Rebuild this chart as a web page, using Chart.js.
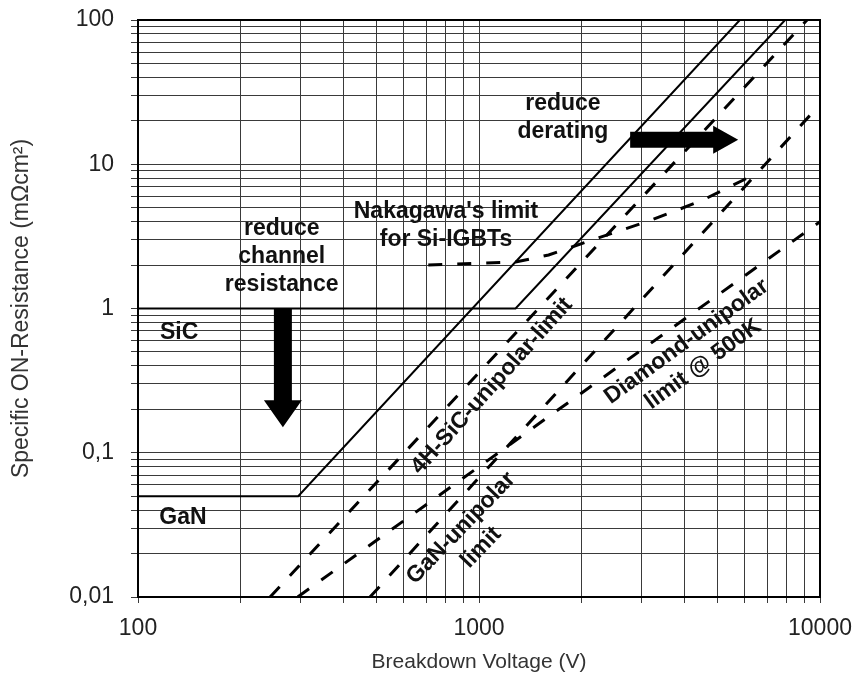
<!DOCTYPE html>
<html>
<head>
<meta charset="utf-8">
<script src="https://cdn.jsdelivr.net/npm/chart.js@4.4.1/dist/chart.umd.min.js"></script>
<style>
    html, body { margin: 0; padding: 0; background: #fff; }
</style>
</head>
<body>
<canvas id="chart" width="861" height="682"></canvas>
<script>
// breakdown voltage (V) / specific on-resistance (mOhm cm2)
const ganSolidV = [100, 295, 5820];
const ganSolidR = [0.05, 0.05, 100];
const sicSolidV = [100, 1280, 7900];
const sicSolidR = [1, 1, 100];
const sic4hLimitV = [244, 9160];
const sic4hLimitR = [0.01, 100];
const ganLimitV = [479, 10000];
const ganLimitR = [0.01, 26];
const diamondLimitV = [294, 10000];
const diamondLimitR = [0.01, 4.0];
const nakagawaV = [710, 1280, 1600, 2250, 3200, 4500, 6500];
const nakagawaR = [2.0, 2.1, 2.35, 3.1, 4.1, 5.6, 8.6];

const xTicks = [100, 1000, 10000];
const xTickLabels = ['100', '1000', '10000'];
const yTicks = [0.01, 0.1, 1, 10, 100];
const yTickLabels = ['0,01', '0,1', '1', '10', '100'];

// notes and arrows, anchored in data units
const noteText = [
    ['reduce', 'channel', 'resistance'],
    ['reduce', 'derating'],
    ['Nakagawa\'s limit', 'for Si-IGBTs'],
    ['SiC'],
    ['GaN'],
    ['4H-SiC-unipolar-limit'],
    ['GaN-unipolar', 'limit'],
    ['Diamond-unipolar', 'limit @ 500K'],
];
const noteAt = [[264, 2.3], [1762, 20.9], [800, 3.73], [132, 0.676], [135.5, 0.0353], [1091, 0.29], [948, 0.0257], [4295, 0.492]];
const noteAngle = [0, 0, 0, 0, 0, -48, -46, -36];
const arrowStart = [[266, 1], [2775, 14.8]];
const arrowEnd = [[266, 0.15], [5755, 14.8]];

const FONT = '"Liberation Sans", Arial, sans-serif';

function pts(xs, ys) {
    return xs.map((x, i) => ({ x, y: ys[i] }));
}

// 1..9 x 10^n grid between two decades
function logGrid(min, max) {
    const out = [];
    for(let e = Math.round(Math.log10(min)); e < Math.round(Math.log10(max)); e++) {
        for(let k = 1; k < 10; k++) {
            out.push(k * Math.pow(10, e));
        }
    }
    out.push(max);
    return out;
}

function decadeLabel(values, labels) {
    return (value) => {
        const i = values.findIndex(v => Math.abs(Math.log10(v / value)) < 1e-6);
        return i >= 0 ? labels[i] : '';
    };
}

function line(data, dashed) {
    return {
        data,
        borderColor: '#000',
        borderWidth: dashed ? 3 : 2,
        borderDash: dashed ? [14, 15] : [],
        pointRadius: 0,
        tension: 0,
        fill: false,
    };
}

function drawArrow(ctx, x1, y1, x2, y2, shaft, head, headLen) {
    const len = Math.hypot(x2 - x1, y2 - y1);
    ctx.save();
    ctx.translate(x1, y1);
    ctx.rotate(Math.atan2(y2 - y1, x2 - x1));
    ctx.beginPath();
    ctx.moveTo(0, -shaft);
    ctx.lineTo(len - headLen, -shaft);
    ctx.lineTo(len - headLen, -head);
    ctx.lineTo(len, 0);
    ctx.lineTo(len - headLen, head);
    ctx.lineTo(len - headLen, shaft);
    ctx.lineTo(0, shaft);
    ctx.closePath();
    ctx.fill();
    ctx.restore();
}

const notesPlugin = {
    id: 'notes',
    afterDatasetsDraw(chart) {
        const { ctx, chartArea: a, scales: { x, y } } = chart;
        ctx.save();
        ctx.strokeStyle = '#000';
        ctx.lineWidth = 2;
        ctx.strokeRect(a.left, a.top, a.right - a.left, a.bottom - a.top);

        const arrowSize = [[9, 19, 27], [8, 14, 25]];
        ctx.fillStyle = '#000';
        arrowStart.forEach((s, i) => {
            const e = arrowEnd[i];
            drawArrow(ctx,
                x.getPixelForValue(s[0]), y.getPixelForValue(s[1]),
                x.getPixelForValue(e[0]), y.getPixelForValue(e[1]),
                ...arrowSize[i]);
        });

        ctx.fillStyle = '#111';
        ctx.font = 'bold 23px ' + FONT;
        ctx.textAlign = 'center';
        ctx.textBaseline = 'middle';
        noteText.forEach((lines, i) => {
            ctx.save();
            ctx.translate(x.getPixelForValue(noteAt[i][0]), y.getPixelForValue(noteAt[i][1]));
            ctx.rotate(noteAngle[i] * Math.PI / 180);
            lines.forEach((t, j) => {
                ctx.fillText(t, 0, (j - (lines.length - 1) / 2) * 28);
            });
            ctx.restore();
        });
        ctx.restore();
    }
};

const gridStyle = { color: '#3a3a3a', lineWidth: 1, drawTicks: true };

new Chart(document.getElementById('chart'), {
    type: 'line',
    data: {
        datasets: [
            line(pts(ganSolidV, ganSolidR), false),
            line(pts(sicSolidV, sicSolidR), false),
            line(pts(sic4hLimitV, sic4hLimitR), true),
            line(pts(ganLimitV, ganLimitR), true),
            line(pts(diamondLimitV, diamondLimitR), true),
            line(pts(nakagawaV, nakagawaR), true),
        ]
    },
    options: {
        responsive: false,
        animation: false,
        layout: { padding: { top: 20, right: 41, left: 0, bottom: 0 } },
        plugins: {
            legend: { display: false },
            tooltip: { enabled: false },
        },
        scales: {
            x: {
                type: 'logarithmic',
                min: 100,
                max: 10000,
                afterBuildTicks: (s) => { s.ticks = logGrid(100, 10000).map(v => ({ value: v })); },
                afterFit: (s) => {
                    s.height = 85;
                    s.paddingLeft = 0;
                    s.paddingRight = 0;
                },
                grid: { ...gridStyle, tickLength: 6 },
                border: { display: false },
                ticks: {
                    autoSkip: false,
                    maxRotation: 0,
                    minRotation: 0,
                    padding: 12,
                    color: '#222',
                    font: { family: FONT, size: 23 },
                    callback: decadeLabel(xTicks, xTickLabels),
                },
                title: {
                    display: true,
                    text: 'Breakdown Voltage (V)',
                    color: '#333',
                    font: { family: FONT, size: 21 },
                    padding: { top: 0, bottom: 7 },
                },
            },
            y: {
                type: 'logarithmic',
                min: 0.01,
                max: 100,
                afterBuildTicks: (s) => { s.ticks = logGrid(0.01, 100).map(v => ({ value: v })); },
                afterFit: (s) => {
                    s.width = 138;
                    s.paddingTop = 0;
                    s.paddingBottom = 0;
                },
                grid: { ...gridStyle, tickLength: 7 },
                border: { display: false },
                ticks: {
                    autoSkip: false,
                    padding: 17,
                    color: '#222',
                    font: { family: FONT, size: 23 },
                    callback: decadeLabel(yTicks, yTickLabels),
                },
                title: {
                    display: true,
                    text: 'Specific ON-Resistance (mΩcm²)',
                    color: '#333',
                    font: { family: FONT, size: 23 },
                    padding: { top: 8, bottom: 0 },
                },
            },
        },
    },
    plugins: [notesPlugin],
});
</script>
</body>
</html>
